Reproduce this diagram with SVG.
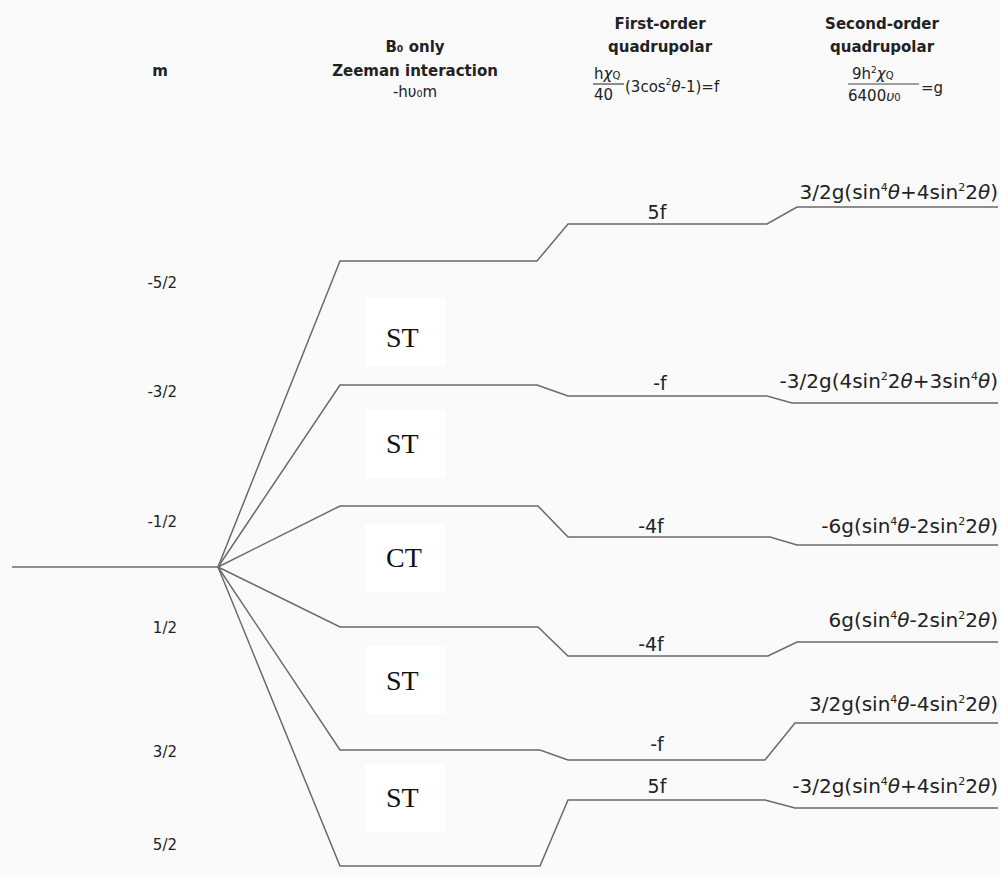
<svg xmlns="http://www.w3.org/2000/svg" width="1000" height="877" viewBox="0 0 1000 877">
<style>
.bg{fill:#fafafa}
.lv{fill:none;stroke:#6a6a6a;stroke-width:1.5;stroke-linejoin:miter}
.h{font-family:"DejaVu Sans",sans-serif;font-weight:bold;font-size:15px;fill:#222;text-anchor:middle}
.t{font-family:"DejaVu Sans",sans-serif;font-size:15px;fill:#222}
.q{font-family:"DejaVu Sans",sans-serif;font-size:19px;fill:#222}
.r{font-family:"DejaVu Sans",sans-serif;font-size:20px;fill:#222}
.m{text-anchor:middle}
.e{text-anchor:end}
.sup{font-size:11px}
.box{fill:#ffffff}
.st{font-family:"Liberation Serif",serif;font-size:28px;fill:#111}
</style>
<rect class="bg" x="0" y="0" width="1000" height="877"/>
<g id="header">
<text class="h" x="160" y="76">m</text>
<text class="h" x="415" y="52">B₀ only</text>
<text class="h" x="415" y="76">Zeeman interaction</text>
<text class="t m" x="415" y="97" font-size="16">-hυ₀m</text>
<text class="h" x="660" y="29">First-order</text>
<text class="h" x="660" y="52">quadrupolar</text>
<text class="t" x="594" y="79" font-size="15">h<tspan font-style="italic">χ</tspan><tspan font-size="10">Q</tspan></text>
<line x1="593" y1="84" x2="624" y2="84" stroke="#444" stroke-width="1.2"/>
<text class="t" x="594" y="100" font-size="17">40</text>
<text class="t" x="625" y="92" font-size="16.5">(3cos<tspan font-size="9" dy="-7">2</tspan><tspan dy="7" font-style="italic">θ</tspan>-1)=f</text>
<text class="h" x="882" y="29">Second-order</text>
<text class="h" x="882" y="52">quadrupolar</text>
<text class="t" x="852" y="79" font-size="16.5">9h<tspan font-size="9" dy="-6">2</tspan><tspan dy="6" font-style="italic">χ</tspan><tspan font-size="10">Q</tspan></text>
<line x1="848" y1="84" x2="919" y2="84" stroke="#444" stroke-width="1.2"/>
<text class="t" x="848" y="101" font-size="16.5">6400<tspan font-style="italic" font-size="14">υ</tspan><tspan font-size="10">0</tspan></text>
<text class="t" x="921" y="93" font-size="21">=g</text>
</g>
<g id="m-labels">
<text class="t e" x="177" y="288">-5/2</text>
<text class="t e" x="177" y="397">-3/2</text>
<text class="t e" x="177" y="527">-1/2</text>
<text class="t e" x="177" y="633">1/2</text>
<text class="t e" x="177" y="757">3/2</text>
<text class="t e" x="177" y="850">5/2</text>
</g>
<g id="connectors">
<line class="lv" x1="12" y1="567" x2="218" y2="567"/>
<polyline class="lv" points="218,567 340,261 537,261 568,224 767,224 797,207 998,207"/>
<polyline class="lv" points="218,567 340,385 537,385 568,396 767,396 792,403 998,403"/>
<polyline class="lv" points="218,567 340,506 538,506 568,537 770,537 797,545 998,545"/>
<polyline class="lv" points="218,567 340,627 538,627 568,656 768,656 797,642 998,642"/>
<polyline class="lv" points="218,567 340,750 540,750 568,760 765,760 795,723 998,723"/>
<polyline class="lv" points="218,567 340,866 540,866 568,800 765,800 795,808 998,808"/>
</g>
<g id="transition-labels">
<g id="st1"><rect class="box" x="365" y="298" width="80" height="68"/><text class="st" x="386" y="347">ST</text></g>
<g id="st2"><rect class="box" x="365" y="410" width="80" height="68"/><text class="st" x="386" y="453">ST</text></g>
<g id="ct"><rect class="box" x="365" y="524" width="80" height="68"/><text class="st" x="386" y="567">CT</text></g>
<g id="st3"><rect class="box" x="365" y="646" width="80" height="68"/><text class="st" x="386" y="690">ST</text></g>
<g id="st4"><rect class="box" x="365" y="764" width="80" height="68"/><text class="st" x="386" y="807">ST</text></g>
</g>
<g id="first-order-labels">
<text class="q m" x="657" y="219">5f</text>
<text class="q m" x="660" y="390">-f</text>
<text class="q m" x="651" y="533">-4f</text>
<text class="q m" x="651" y="651">-4f</text>
<text class="q m" x="657" y="751">-f</text>
<text class="q m" x="657" y="793">5f</text>
</g>
<g id="second-order-labels">
<text class="r e" x="998" y="199">3/2g(sin<tspan class="sup" dy="-8">4</tspan><tspan dy="8" font-style="italic">θ</tspan>+4sin<tspan class="sup" dy="-8">2</tspan><tspan dy="8">2</tspan><tspan font-style="italic">θ</tspan>)</text>
<text class="r e" x="998" y="388">-3/2g(4sin<tspan class="sup" dy="-8">2</tspan><tspan dy="8">2</tspan><tspan font-style="italic">θ</tspan>+3sin<tspan class="sup" dy="-8">4</tspan><tspan dy="8" font-style="italic">θ</tspan>)</text>
<text class="r e" x="998" y="533">-6g(sin<tspan class="sup" dy="-8">4</tspan><tspan dy="8" font-style="italic">θ</tspan>-2sin<tspan class="sup" dy="-8">2</tspan><tspan dy="8">2</tspan><tspan font-style="italic">θ</tspan>)</text>
<text class="r e" x="998" y="627">6g(sin<tspan class="sup" dy="-8">4</tspan><tspan dy="8" font-style="italic">θ</tspan>-2sin<tspan class="sup" dy="-8">2</tspan><tspan dy="8">2</tspan><tspan font-style="italic">θ</tspan>)</text>
<text class="r e" x="998" y="711">3/2g(sin<tspan class="sup" dy="-8">4</tspan><tspan dy="8" font-style="italic">θ</tspan>-4sin<tspan class="sup" dy="-8">2</tspan><tspan dy="8">2</tspan><tspan font-style="italic">θ</tspan>)</text>
<text class="r e" x="998" y="793">-3/2g(sin<tspan class="sup" dy="-8">4</tspan><tspan dy="8" font-style="italic">θ</tspan>+4sin<tspan class="sup" dy="-8">2</tspan><tspan dy="8">2</tspan><tspan font-style="italic">θ</tspan>)</text>
</g>
</svg>
